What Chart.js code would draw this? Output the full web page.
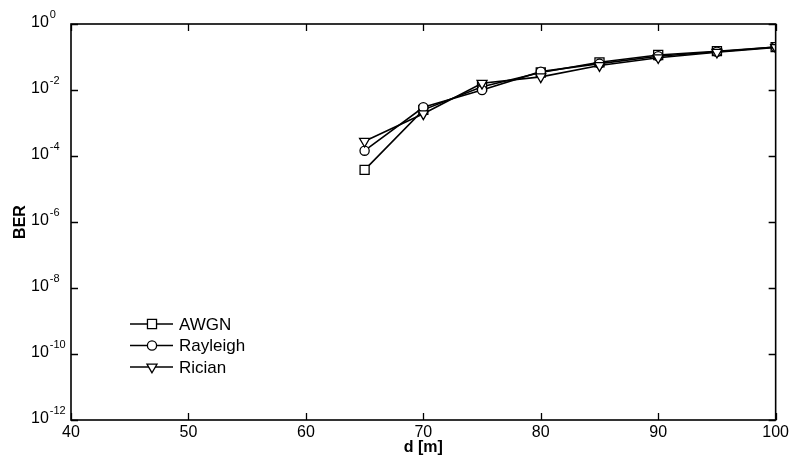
<!DOCTYPE html>
<html>
<head>
<meta charset="utf-8">
<script src="https://cdn.jsdelivr.net/npm/chart.js@4/dist/chart.umd.min.js"></script>
<style>
html,body{margin:0;padding:0;background:#fff;}
#wrap{width:792px;height:459px;}
</style>
</head>
<body>
<div id="wrap"><canvas id="c" width="792" height="459"></canvas></div>
<script>
// ---- data ----
const distances = [65, 70, 75, 80, 85, 90, 95, 100];
const awgn     = [3.8e-5, 2.5e-3, 1.26e-2, 3.4e-2, 6.9e-2, 0.115, 0.150, 0.200];
const rayleigh = [1.45e-4, 3.0e-3, 1.0e-2, 3.6e-2, 6.3e-2, 0.105, 0.145, 0.200];
const rician   = [2.8e-4, 1.9e-3, 1.6e-2, 2.5e-2, 5.5e-2, 0.095, 0.140, 0.195];
const seriesNames = ['AWGN', 'Rayleigh', 'Rician'];
const xTicks = [40, 50, 60, 70, 80, 90, 100];
const yExponents = [0, -2, -4, -6, -8, -10, -12];

const FONT = '"Liberation Sans", Arial, Helvetica, sans-serif';

function pts(vals){ return distances.map((d,i)=>({x:d, y:vals[i]})); }

const styles = [
  {pointStyle:'rect', pointRadius:6.4, pointRotation:0},
  {pointStyle:'circle', pointRadius:4.6, pointRotation:0},
  {pointStyle:'triangle', pointRadius:5.8, pointRotation:180}
];
const allSeries = [awgn, rayleigh, rician];

const datasets = allSeries.map((s,i)=>({
  label: seriesNames[i],
  data: pts(s),
  order: 3 - i,
  borderColor:'#000',
  borderWidth:1.6,
  backgroundColor:'#fff',
  pointBackgroundColor:'#fff',
  pointBorderColor:'#000',
  pointBorderWidth:1.3,
  pointStyle: styles[i].pointStyle,
  pointRadius: styles[i].pointRadius,
  pointRotation: styles[i].pointRotation,
  tension:0,
  fill:false
}));

const decor = {
  id:'decor',
  afterDatasetsDraw(chart){
    const ctx = chart.ctx, a = chart.chartArea;
    const xs = chart.scales.x, ys = chart.scales.y;
    ctx.save();
    ctx.strokeStyle = '#000';
    ctx.lineWidth = 1.6;
    ctx.strokeRect(a.left, a.top, a.right - a.left, a.bottom - a.top);
    ctx.lineWidth = 1.3;
    ctx.beginPath();
    xTicks.forEach(v=>{
      const px = Math.round(xs.getPixelForValue(v)) + 0.5;
      ctx.moveTo(px, a.bottom); ctx.lineTo(px, a.bottom - 7);
      ctx.moveTo(px, a.top); ctx.lineTo(px, a.top + 7);
    });
    yExponents.forEach(e=>{
      const py = Math.round(ys.getPixelForValue(Math.pow(10,e))) + 0.5;
      ctx.moveTo(a.left, py); ctx.lineTo(a.left + 7, py);
      ctx.moveTo(a.right, py); ctx.lineTo(a.right - 7, py);
    });
    ctx.stroke();
    // y tick labels with superscripts
    ctx.fillStyle = '#000';
    ctx.textBaseline = 'alphabetic';
    ctx.textAlign = 'left';
    yExponents.forEach(e=>{
      const py = ys.getPixelForValue(Math.pow(10,e));
      ctx.font = '16px ' + FONT;
      ctx.fillText('10', 31, py + 3);
      const w = ctx.measureText('10').width;
      ctx.font = '11px ' + FONT;
      ctx.fillText(String(e), 31 + w + 1, py - 6);
    });
    // legend
    const lx0 = 130, lx1 = 173, mx = 152, tx = 179;
    const rows = [324, 345.5, 367];
    seriesNames.forEach((name,i)=>{
      const y = rows[i];
      ctx.strokeStyle = '#000';
      ctx.lineWidth = 1.5;
      ctx.beginPath(); ctx.moveTo(lx0, y); ctx.lineTo(lx1, y); ctx.stroke();
      ctx.fillStyle = '#fff';
      ctx.lineWidth = 1.3;
      Chart.helpers.drawPoint(ctx, {
        pointStyle: styles[i].pointStyle,
        radius: styles[i].pointRadius,
        rotation: styles[i].pointRotation,
        borderWidth: 1.3
      }, mx, y);
      ctx.fillStyle = '#000';
      ctx.font = '17px ' + FONT;
      ctx.textBaseline = 'middle';
      ctx.fillText(name, tx, y + 1);
    });
    ctx.restore();
  }
};

new Chart(document.getElementById('c'), {
  type:'line',
  data:{datasets},
  options:{
    responsive:false,
    animation:false,
    devicePixelRatio:1,
    layout:{padding:{left:0, top:24, right:15, bottom:0}},
    plugins:{legend:{display:false}, tooltip:{enabled:false}},
    scales:{
      x:{
        type:'linear', min:40, max:100,
        afterBuildTicks(s){ s.ticks = xTicks.map(v=>({value:v})); },
        afterFit(s){ s.height = 39; },
        grid:{display:false, drawTicks:false},
        border:{display:false},
        ticks:{color:'#000', font:{family:FONT, size:16}, padding:3, maxRotation:0, autoSkip:false},
        title:{display:true, text:'d [m]', color:'#000', font:{family:FONT, size:16, weight:'bold'}, padding:{top:0, bottom:2}}
      },
      y:{
        type:'logarithmic', min:1e-12, max:1,
        afterFit(s){ s.width = 71; },
        grid:{display:false, drawTicks:false},
        border:{display:false},
        ticks:{display:false},
        title:{display:true, text:'BER', color:'#000', font:{family:FONT, size:16, weight:'bold'}, padding:{top:11, bottom:0}}
      }
    }
  },
  plugins:[decor]
});
</script>
</body>
</html>
